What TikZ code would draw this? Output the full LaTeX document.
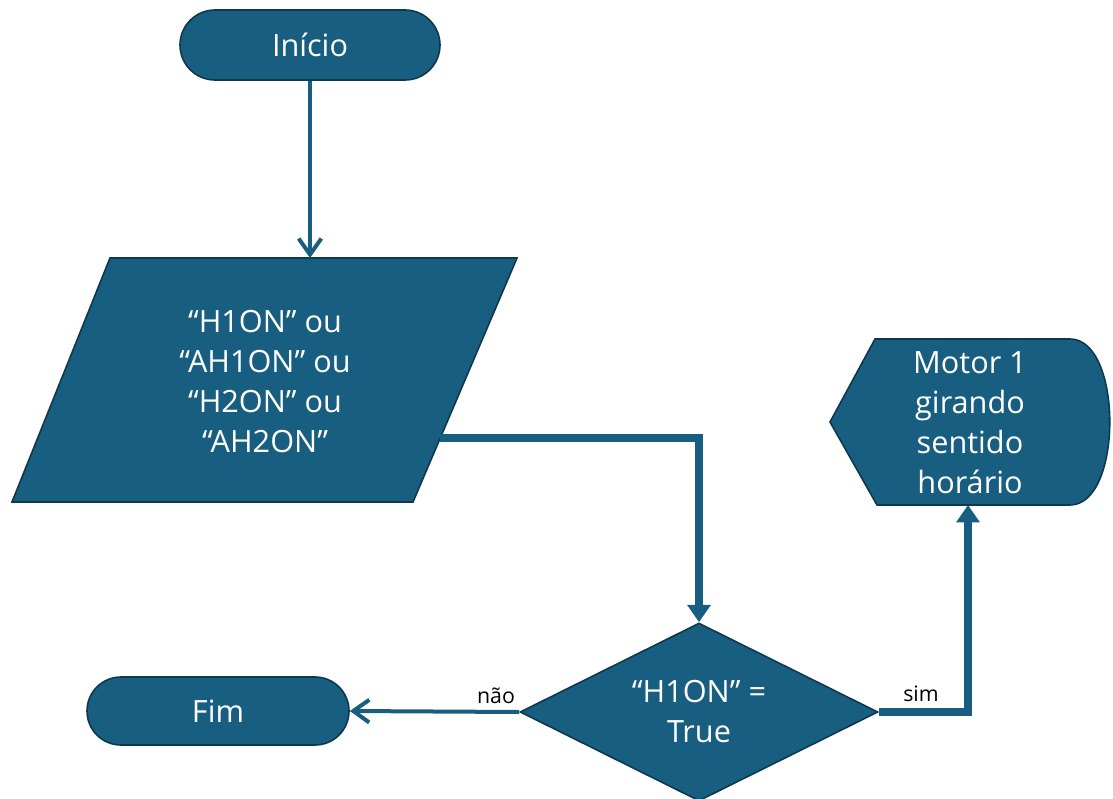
\documentclass[tikz,border=0pt]{standalone}
\usepackage{fontspec}
\setmainfont{Open Sans}
\usetikzlibrary{arrows.meta,shapes.misc,shapes.geometric}
\definecolor{fc}{RGB}{24,94,128}
\definecolor{oc}{RGB}{14,56,76}
\begin{document}
\begin{tikzpicture}[x=0.75pt,y=-0.75pt,
  shapefill/.style={fill=fc,draw=oc,line width=1.2pt},
  txt/.style={text=white,font=\fontsize{23}{30}\selectfont,align=center},
  terminal/.style={rounded rectangle,shapefill,txt,inner sep=0pt},
  thinconn/.style={draw=fc,line width=3pt,-{Straight Barb[length=12pt,width=17pt,line width=3pt]}},
  thickconn/.style={draw=fc,line width=6pt,-{Triangle[length=13pt,width=17pt]}},
  lbl/.style={font=\fontsize{16}{18}\selectfont,text=black,inner sep=0pt}]
\useasboundingbox (0,0) rectangle (1113,799);
\begin{scope}
\clip (0,0) rectangle (1113,799);
% start
\node[terminal,minimum width=195pt,minimum height=52.5pt] (start) at (310,45) {Início};
% input parallelogram
\draw[shapefill] (110,258) -- (517,258) -- (413,502) -- (12,502) -- cycle;
\node[txt] (inp) at (265,382) {“H1ON” ou\\“AH1ON” ou\\“H2ON” ou\\“AH2ON”};
\coordinate (inpT) at (310,258);
\coordinate (inpR) at (440,438);
% decision
\node[diamond,shapefill,minimum width=268.5pt,minimum height=133.5pt,inner sep=0pt] (dec) at (699,712) {};
\node[txt] (dectxt) at (dec) {“H1ON” =\\True};
% display
\draw[shapefill] (830,422) -- (875,339) -- (1070,339) .. controls (1123,339) and (1123,505) .. (1070,505) -- (877,505) -- cycle;
\node[txt] (disp) at (970,423) {Motor 1\\girando\\sentido\\horário};
\coordinate (dispB) at (968,505);
% end
\node[terminal,minimum width=196.5pt,minimum height=51pt] (fim) at (218,711) {Fim};
% connectors
\draw[thinconn] (start.south) -- (inpT);
\draw[thickconn] (inpR) -| (dec.north);
\draw[thickconn] (dec.east) -| (dispB);
\draw[thinconn] (dec.west) -- (fim.east);
% labels
\node[lbl,anchor=base] (nao) at (496,703) {não};
\node[lbl,anchor=base] (sim) at (921,701) {sim};
\end{scope}
\end{tikzpicture}
\end{document}
